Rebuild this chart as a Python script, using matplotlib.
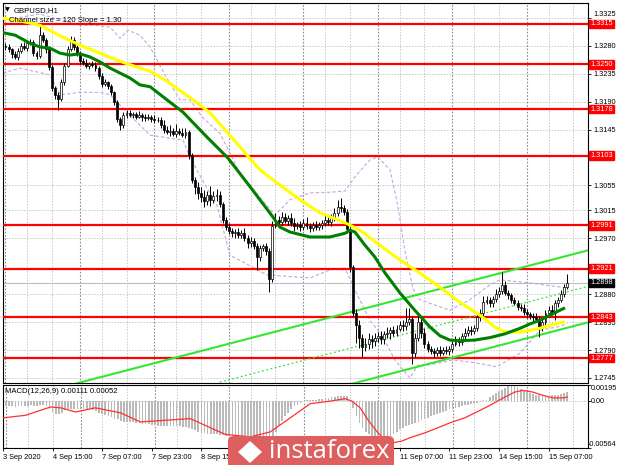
import matplotlib
matplotlib.use("Agg")
import matplotlib.pyplot as plt
from matplotlib.patches import FancyBboxPatch, Polygon
from matplotlib.transforms import blended_transform_factory

plt.rcParams['font.family'] = ['Liberation Sans', 'DejaVu Sans']

# prices are stored as pips above BASE
BASE = 1.27

closes = [
    578, 574, 566, 562, 572, 580, 577, 584, 586, 568,
    563, 598, 590, 575, 545, 512, 501, 495, 522, 548,
    575, 590, 578, 568, 556, 552, 548, 551, 549, 544,
    532, 518, 521, 515, 505, 490, 462, 452, 468, 472,
    468, 470, 466, 469, 465, 463, 466, 462, 460, 461,
    452, 444, 441, 443, 438, 442, 440, 436, 441, 404,
    364, 353, 343, 336, 330, 340, 332, 338, 340, 325,
    300, 288, 282, 278, 280, 276, 279, 270, 262, 265,
    258, 240, 255, 258, 250, 205, 290, 300, 296, 305,
    298, 302, 295, 290, 292, 288, 295, 290, 286, 292,
    288, 291, 295, 300, 296, 302, 310, 320, 318, 312,
    285, 224, 150, 130, 110, 95, 100, 108, 104, 110,
    112, 108, 115, 118, 122, 118, 124, 130, 128, 135,
    140, 85, 110, 135, 118, 100, 92, 88, 85, 90,
    86, 90, 88, 92, 100, 105, 103, 112, 118, 122,
    120, 125, 143, 150, 168, 170, 165, 172, 180, 185,
    195, 182, 178, 170, 166, 160, 158, 151, 148, 145,
    143, 140, 125, 135, 150, 155, 150, 165, 171, 180,
    192, 198]
first_open = 580

wick_up = [
    4, 5, 3, 6, 4, 5, 6, 4, 5, 3,
    4, 14, 4, 3, 5, 4, 3, 4, 5, 4,
    5, 5, 4, 3, 4, 5, 6, 3, 4, 5,
    3, 4, 5, 3, 4, 2, 3, 4, 6, 4,
    5, 3, 4, 6, 3, 5, 4, 3, 6, 4,
    5, 8, 6, 10, 4, 12, 5, 7, 6, 4,
    3, 5, 8, 9, 12, 6, 14, 8, 9, 6,
    4, 5, 6, 4, 5, 6, 4, 8, 6, 7,
    6, 5, 4, 3, 5, 4, 8, 10, 6, 8,
    6, 5, 8, 7, 4, 5, 6, 9, 5, 4,
    6, 5, 4, 8, 6, 7, 8, 12, 14, 6,
    5, 4, 3, 6, 8, 5, 9, 10, 6, 8,
    7, 8, 6, 9, 5, 7, 6, 6, 8, 23,
    18, 4, 8, 12, 6, 7, 5, 4, 6, 5,
    7, 5, 6, 4, 5, 7, 6, 5, 8, 6,
    7, 6, 8, 6, 9, 7, 6, 5, 8, 7,
    21, 6, 5, 4, 6, 5, 4, 6, 5, 4,
    5, 6, 4, 5, 4, 6, 8, 5, 4, 6,
    5, 15]

wick_dn = [
    5, 4, 6, 4, 5, 3, 4, 5, 3, 4,
    5, 3, 4, 6, 4, 5, 6, 18, 4, 5,
    3, 4, 5, 4, 6, 3, 4, 5, 3, 4,
    5, 4, 3, 5, 4, 6, 5, 7, 4, 5,
    3, 5, 4, 3, 6, 4, 3, 5, 4, 3,
    4, 5, 3, 6, 4, 5, 4, 3, 5, 6,
    5, 12, 10, 8, 9, 7, 10, 6, 8, 5,
    6, 4, 5, 6, 7, 5, 6, 5, 8, 6,
    5, 21, 6, 5, 7, 21, 5, 4, 6, 5,
    4, 6, 5, 8, 5, 6, 4, 5, 6, 5,
    4, 5, 6, 5, 4, 6, 5, 4, 6, 5,
    6, 8, 5, 29, 16, 16, 6, 9, 10, 8,
    7, 9, 8, 6, 10, 5, 6, 4, 8, 6,
    5, 17, 6, 5, 8, 6, 5, 4, 6, 5,
    6, 4, 5, 6, 5, 4, 6, 5, 4, 5,
    6, 5, 4, 6, 5, 4, 6, 5, 4, 5,
    5, 4, 6, 5, 4, 6, 5, 4, 6, 5,
    6, 5, 14, 4, 5, 6, 4, 12, 5, 4,
    5, 4]

# moving averages (bar, pips)
ma_green_x = [-1.8, 3.1, 7.9, 11.1, 14.3, 17.6, 20.8, 24, 27.2, 30.4, 33.7, 36.9, 40.1, 43.3,
              46.6, 52, 57.2, 64.9, 71.7, 78.8, 86.2, 88.4, 91.7, 98.1, 104.5, 109.4, 111,
              112.6, 115.8, 119, 122.3, 127.1, 131.9, 136.8, 140, 143.2, 146.4, 151.2, 156.1,
              160.9, 165.8, 169, 172.2, 177, 180.3]
ma_green_v = [602, 597, 584, 578, 576, 568, 565, 567, 562, 554, 544, 536, 528, 517,
              514, 493, 473, 433, 399, 353, 304, 288, 280, 272, 272, 278, 283,
              280, 259, 240, 214, 182, 154, 127, 113, 106, 105, 106, 110,
              116, 125, 132, 138, 150, 158]
ma_yellow_x = [-1.8, 4.7, 11.1, 17.6, 24, 30.4, 36.9, 43.3, 46.6, 51.4, 60.4, 65.9, 71.4,
               77.8, 82, 87.5, 94.9, 101.3, 109.4, 114.2, 120.6, 127.1, 133.5, 140, 146.4,
               152.9, 157.7, 160.9, 165.8, 172.2, 178.7, 180.3]
ma_yellow_v = [625, 620, 613, 596, 581, 568, 555, 544, 539, 525, 493, 472, 441,
               404, 380, 359, 332, 311, 295, 283, 259, 235, 214, 191, 167,
               146, 127, 119, 119, 125, 134, 135]

# envelope bands (bar, pips)
band_up_x = [-0.8, 11.1, 24, 28.8, 33.7, 36.9, 39.5, 43.3, 46.6, 51.4, 56.2, 59.4, 63.6,
             69.1, 75.5, 82, 86.8, 91.7, 98.1, 104.5, 109.4, 112.6, 117.4, 120, 123.9,
             126.4, 128.7, 131.3, 133.5, 143.2, 149.6, 156.1, 159.3, 169, 181]
band_up_v = [621, 631, 613, 613, 610, 592, 605, 597, 578, 533, 493, 493, 464,
             439, 375, 336, 307, 332, 343, 344, 346, 369, 396, 401, 380,
             323, 250, 189, 171, 154, 171, 195, 203, 198, 190]
band_dn_x = [-0.8, 4.7, 14.3, 17.6, 24, 30.4, 33.7, 40.1, 46.6, 57.2, 59.4, 64.3, 68.1,
             72.3, 84.2, 98.1, 104.5, 109.4, 112.6, 117.4, 121.6, 125.5, 130.3, 132.9,
             136.8, 144.2, 151.9, 158.3, 165.8, 172.2, 177.7, 181]
band_dn_v = [536, 544, 533, 501, 505, 505, 501, 468, 436, 428, 401, 356, 324,
             243, 211, 206, 219, 222, 187, 138, 111, 74, 45, 66,
             66, 74, 69, 63, 85, 122, 127, 132]

# regression channel: middle line anchor (bar, price), slope per bar, half width
chan_bar0, chan_mid0, chan_slope, chan_half = 99, 1.27772, 0.000130, 0.0058

levels = [1.3315, 1.3250, 1.3178, 1.3103, 1.2991, 1.2921, 1.2843, 1.2777]
last_price = 1.2898
price_ticks = [1.3325, 1.3280, 1.3235, 1.3190, 1.3145, 1.3055, 1.3015, 1.2970,
               1.2880, 1.2835, 1.2790, 1.2745]

# MACD main (histogram) and signal, in 0.0001
macd_hist = [
    -6, -6, -6, -7, -6, -6, -6, -6, -5, -6, -6, -5, -4, -6,
    -10, -13, -15, -15, -14, -11, -10,
    -9, -10, -10, -10, -10, -10, -10, -11, -12,
    -14, -15, -17, -18, -19, -21, -22, -24, -25, -25, -25, -25, -26, -26,
    -27, -28, -28, -29, -29, -30, -30, -30, -30, -30, -30, -30, -30, -31, -31, -32, -34, -35, -37,
    -38, -38, -39, -40, -40, -40, -41, -41, -42, -42,
    -42, -42, -42, -43, -43, -43, -44, -44, -44, -44, -43, -43, -44, -42, -37,
    -30, -24, -18, -14, -10, -6, -4, -2,
    0, 1, 2, 2, 2, 3, 3, 4, 4, 5, 5, 6, 6, 6, 6,
    2, -8, -18, -26, -32, -37, -40, -42, -44, -45, -46,
    -45, -43, -42, -39, -37, -34, -32, -30, -29, -28, -26, -25, -23,
    -22, -20, -18, -17, -15, -14, -13, -12, -10, -10, -8, -7, -6, -5, -4, -3,
    -2, -2, -1, 1, 2,
    5, 7, 10, 12, 14, 16, 18, 19, 19, 17, 15,
    13, 11, 10, 9, 8, 7, 6, 6, 6,
    7, 8, 8, 9, 10, 11]
signal_x = [-0.8, 6.3, 14.3, 17.6, 22.4, 28.8, 36.9, 43.3, 51.4, 59.4, 65.9, 70.7, 78.8,
            85.2, 91.7, 98.1, 104.5, 109.4, 111.6, 114.2, 116.8, 119.7, 122.3, 124.8,
            127.7, 130.3, 135.2, 140, 143.2, 148, 152.9, 156.1, 160.9, 164.1, 166.7,
            169.9, 173.2, 176.4, 179.6, 181]
signal_v = [-20, -17, -7, -8, -13, -8, -14, -25, -23, -21, -32, -40, -43,
            -37, -20, -3, 0, 3, 0, -8, -23, -37, -47, -50,
            -48, -44, -38, -31, -26, -20, -11, -5, 5, 11, 13,
            11, 7, 4, 4, 5]
macd_top, macd_bottom = 0.00195, -0.00564

# labels hidden under the watermark are left blank
date_labels = ['3 Sep 2020', '4 Sep 15:00', '7 Sep 07:00', '7 Sep 23:00', '8 Sep 15:00',
               '', '', '', '11 Sep 07:00', '11 Sep 23:00', '14 Sep 15:00', '15 Sep 07:00']

W, H = 620, 465
fig = plt.figure(figsize=(6.2, 4.65), dpi=100)
ax = fig.add_axes([3 / W, 1 - 383 / H, 585 / W, 380 / H])
ax2 = fig.add_axes([3 / W, 1 - 448 / H, 585 / W, 63 / H])

xmin, xmax = -0.8, 187.7
n = len(closes)
px = lambda v: BASE + v / 10000.0

# grid
for a in (ax, ax2):
    for k in range(0, 24):
        if k % 3 == 0:
            a.axvline(8 * k, color='#8c8c8c', lw=0.8, ls=(0, (1.5, 1.5)), zorder=0)
        else:
            a.axvline(8 * k - 1, color='#c8c8c8', lw=0.7, ls=(0, (1.5, 1.5)), zorder=0)
for p in price_ticks:
    ax.axhline(p, color='#c8c8c8', lw=0.7, ls=(0, (1.5, 1.5)), zorder=0)

# levels
for lv in levels:
    ax.axhline(lv, color='#ff0000', lw=1.6, zorder=3)
ax.axhline(last_price, color='#bdbdbd', lw=0.8, zorder=1)

# channel
xs = [20, xmax]
ax.plot(xs, [chan_mid0 + chan_half + chan_slope * (b - chan_bar0) for b in xs],
        color='#33e633', lw=1.5, zorder=4)
xs = [69, xmax]
ax.plot(xs, [chan_mid0 + chan_slope * (b - chan_bar0) for b in xs],
        color='#33e633', lw=0.9, ls=(0, (1.5, 2)), zorder=4)
ax.plot(xs, [chan_mid0 - chan_half + chan_slope * (b - chan_bar0) for b in xs],
        color='#33e633', lw=1.5, zorder=4)

# bands
ax.plot(band_up_x, [px(v) for v in band_up_v], color='#c9a3e0', lw=0.8, ls=(0, (3, 2)), zorder=2)
ax.plot(band_dn_x, [px(v) for v in band_dn_v], color='#c9a3e0', lw=0.8, ls=(0, (3, 2)), zorder=2)

# candles
opens = [first_open] + closes[:-1]
for i in range(n):
    o, c = opens[i], closes[i]
    hi = max(o, c) + wick_up[i]
    lo = min(o, c) - wick_dn[i]
    ax.vlines(i, px(lo), px(hi), color='black', lw=0.7, zorder=5)
    body = max(abs(c - o), 0.6)
    ax.bar(i, body / 10000.0, bottom=px(min(o, c)), width=0.62,
           color='white' if c >= o else 'black', edgecolor='black', lw=0.5, zorder=6)

# moving averages
ax.plot(ma_yellow_x, [px(v) for v in ma_yellow_v], color='#ffff00', lw=2.2, zorder=7,
        solid_capstyle='butt')
ax.plot(ma_green_x, [px(v) for v in ma_green_v], color='#008000', lw=2.2, zorder=7,
        solid_capstyle='butt')

ax.set_xlim(xmin, xmax)
ax.set_ylim(1.27369, 1.33488)
ax.set_xticks([])
ax.yaxis.tick_right()
ax.set_yticks(price_ticks)
ax.set_yticklabels(['%.4f' % p for p in price_ticks])
ax.tick_params(axis='y', labelsize=5.3, length=2.5, width=0.6, pad=1.5)
ax.get_yticklabels()[0].set_va('bottom')
for s in ax.spines.values():
    s.set_linewidth(0.8)

tr = blended_transform_factory(ax.transAxes, ax.transData)
for lv in levels:
    ax.text(1.004, lv, '%.4f' % lv, transform=tr, ha='left', va='center', fontsize=5.3,
            color='white', zorder=10, clip_on=False,
            bbox=dict(boxstyle='square,pad=0.12', fc='#ff0000', ec='#ff0000'))
ax.text(1.004, last_price, '%.4f' % last_price, transform=tr, ha='left', va='center',
        fontsize=5.3, color='white', zorder=10, clip_on=False,
        bbox=dict(boxstyle='square,pad=0.12', fc='black', ec='black'))

ax.text(0.004, 0.988, '\u25bc', transform=ax.transAxes, fontsize=4.5, va='top', ha='left',
        family=['DejaVu Sans'], zorder=12)
ax.text(0.019, 0.99, 'GBPUSD,H1', transform=ax.transAxes, fontsize=5.6, va='top', ha='left',
        zorder=12)
ax.text(0.01, 0.963, 'Channel size = 120 Slope = 1.30', transform=ax.transAxes,
        fontsize=5.6, va='top', ha='left', zorder=12)

# MACD
ax2.bar(range(len(macd_hist)), [v / 10000.0 for v in macd_hist], width=0.55,
        color='#bababa', zorder=2)
ax2.plot(signal_x, [v / 10000.0 for v in signal_v], color='#ff3030', lw=0.9, zorder=3)
ax2.axhline(0, color='#c8c8c8', lw=0.7, ls=(0, (1.5, 1.5)), zorder=0)
ax2.set_xlim(xmin, xmax)
ax2.set_ylim(macd_bottom, macd_top)
ax2.yaxis.tick_right()
ax2.set_yticks([macd_top, 0, macd_bottom])
ax2.set_yticklabels([])
ax2.tick_params(axis='y', length=2.5, width=0.6)
tr2 = blended_transform_factory(ax2.transAxes, ax2.transData)
for val, txt, va in [(macd_top, '0.00195', 'top'), (0, '0.00', 'center'),
                     (macd_bottom, '-0.00564', 'bottom')]:
    ax2.text(1.0 + (0 if val == macd_bottom else 3) / 585, val, txt, transform=tr2,
             ha='left', va=va, fontsize=5.2, clip_on=False)
ax2.set_xticks([16 * j - 1 for j in range(len(date_labels))])
ax2.set_xticklabels(date_labels, ha='left')
ax2.tick_params(axis='x', labelsize=5.3, length=2.5, width=0.6, pad=2)
for s in ax2.spines.values():
    s.set_linewidth(0.8)
ax2.text(0.004, 0.95, 'MACD(12,26,9) 0.00111 0.00052', transform=ax2.transAxes,
         fontsize=5.6, va='top', ha='left')

# watermark
fig.patches.append(FancyBboxPatch((228 / W, -0.05), 166 / W, (465 - 436) / H + 0.05,
                                  boxstyle='round,pad=0,rounding_size=0.01',
                                  transform=fig.transFigure, fc='#de5f60', ec='none',
                                  zorder=20))
fig.patches.append(Polygon([(238 / W, 1 - 452 / H), (250 / W, 1 - 441 / H),
                            (262 / W, 1 - 452 / H), (250 / W, 1 - 463 / H)],
                           closed=True, transform=fig.transFigure, fc='white', ec='none',
                           zorder=21))
fig.text(269 / W, 1 - 451 / H, 'instaforex', color='white', fontsize=18.5, va='center',
         ha='left', zorder=22, family=['Open Sans', 'DejaVu Sans'])

fig.savefig('out.png', dpi=100)
